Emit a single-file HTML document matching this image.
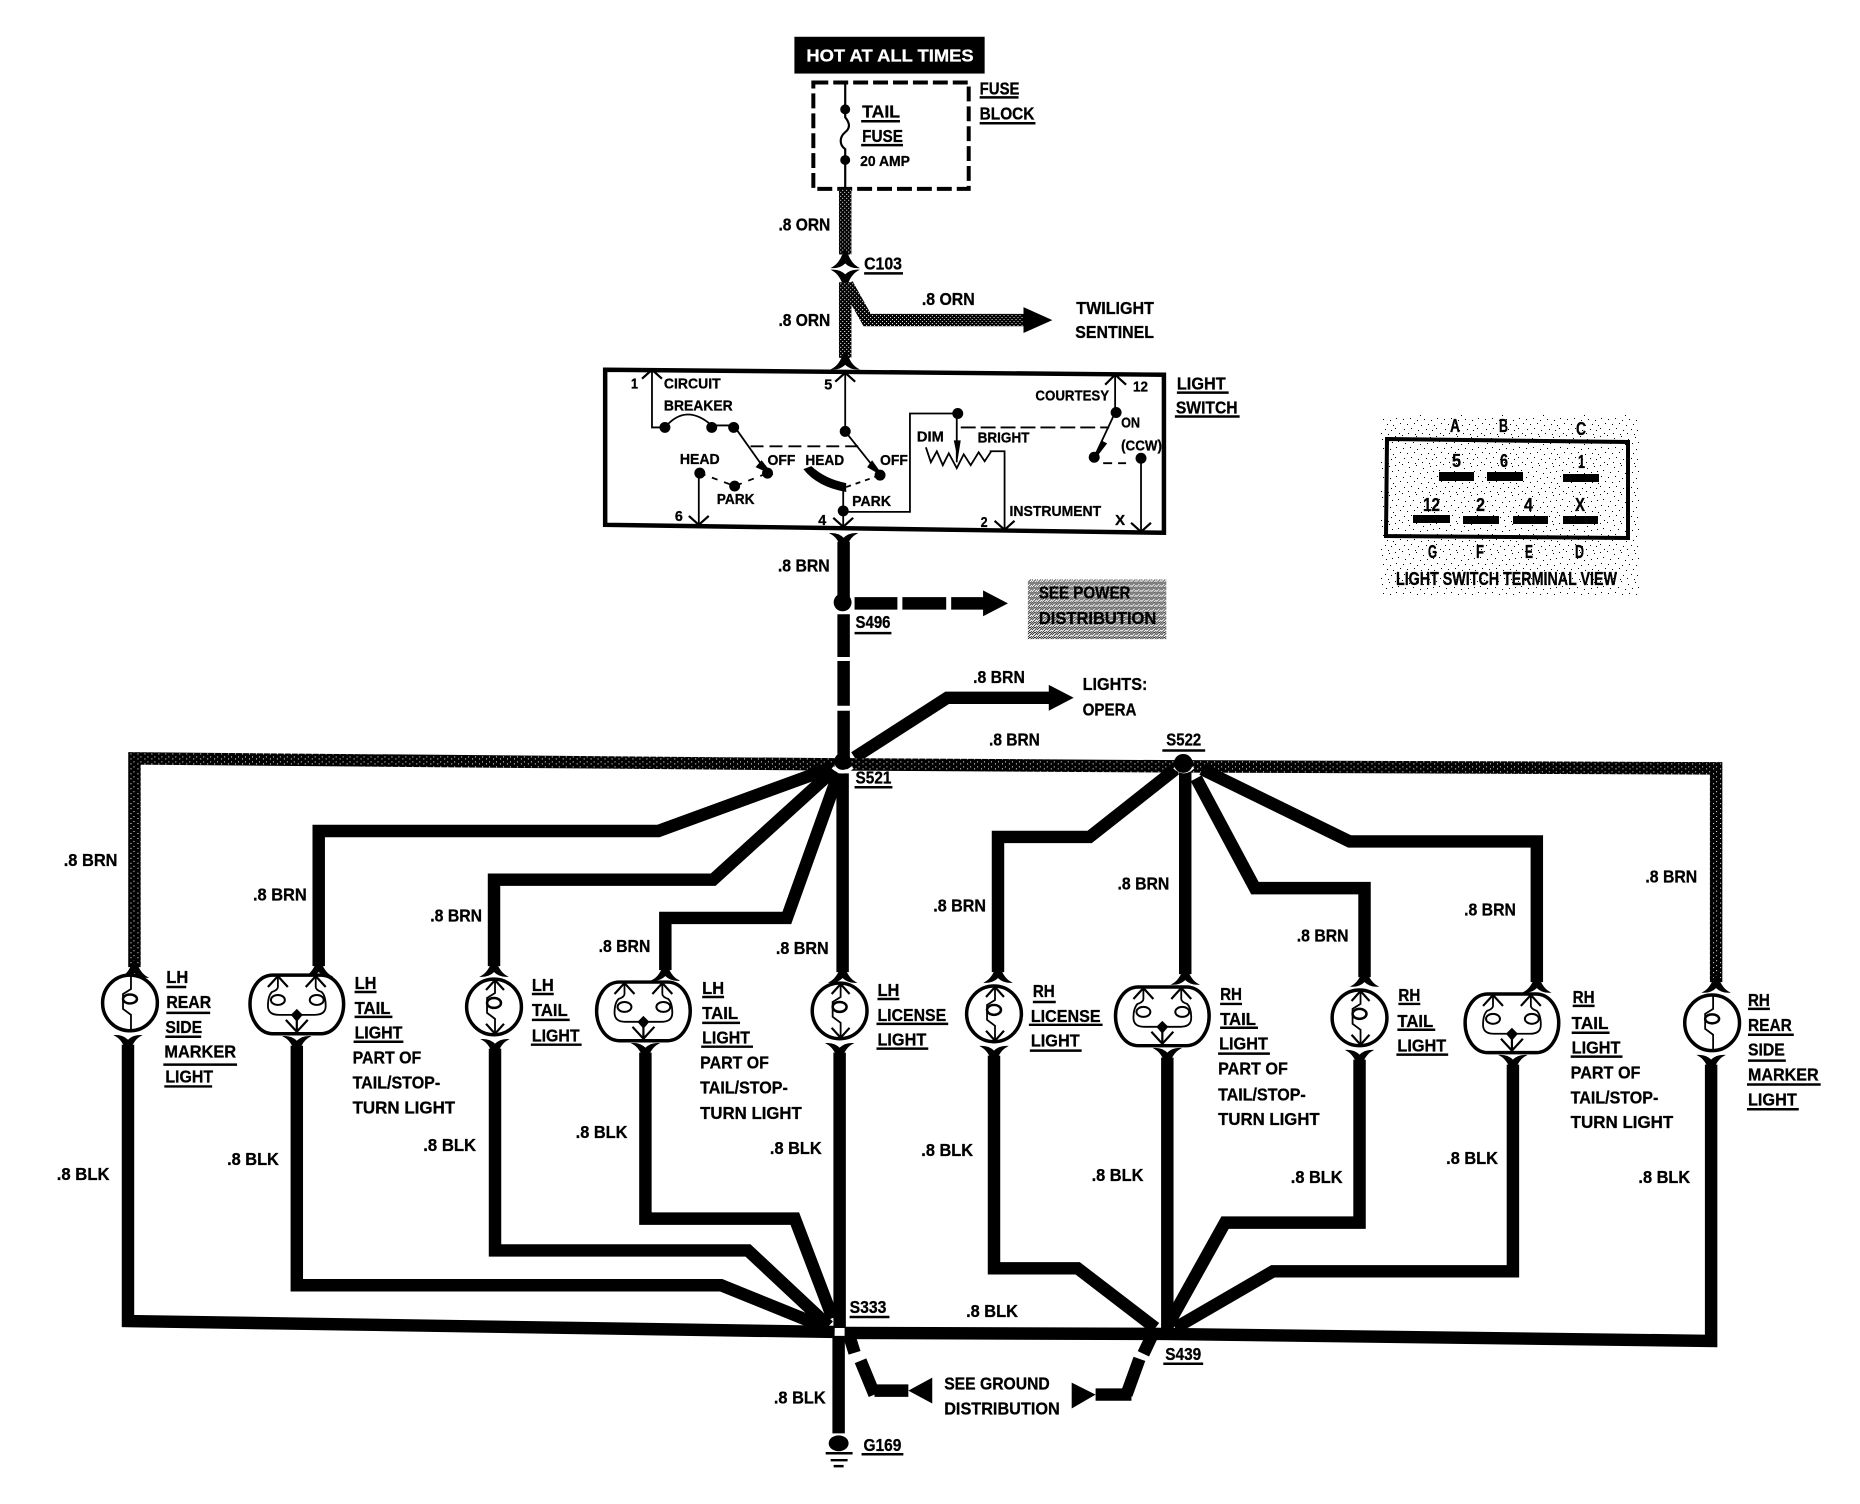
<!DOCTYPE html>
<html><head><meta charset="utf-8"><style>
html,body{margin:0;padding:0;background:#fff}
svg{display:block}
text{font-family:"Liberation Sans Narrow","Liberation Sans",sans-serif;font-weight:bold;font-size:18px;fill:#000;stroke:#000;stroke-width:.3}
.w{fill:none;stroke:#000;stroke-width:12.5;stroke-linejoin:miter}
.p{fill:none;stroke:url(#d1);stroke-width:12.5;stroke-linejoin:miter}
.q{fill:none;stroke:url(#d4);stroke-width:12.5;stroke-linejoin:miter}
.u{fill:none;stroke:#000;stroke-width:2.5}
.f{fill:none;stroke:#000;stroke-width:1.8}
.fb{fill:none;stroke:#000;stroke-width:2.2}
</style></head><body>
<svg xmlns="http://www.w3.org/2000/svg" width="1860" height="1504" viewBox="0 0 1860 1504">
<defs>
<pattern id="d1" width="4" height="4" patternUnits="userSpaceOnUse"><rect width="4" height="4" fill="#000"/><rect x="1" y="1" width="1" height="1" fill="#fff"/><rect x="3" y="3" width="1" height="1" fill="#fff"/></pattern>
<pattern id="d4" width="7" height="5" patternUnits="userSpaceOnUse"><rect width="7" height="5" fill="#000"/><rect x="1" y="1" width="1" height="1" fill="#fff"/><rect x="5" y="3" width="1" height="1" fill="#fff"/></pattern>
<pattern id="d2" width="5" height="5" patternUnits="userSpaceOnUse"><rect width="5" height="5" fill="#fff"/><rect x="0" y="0" width="1" height="1"/><rect x="2" y="0" width="1" height="1"/><rect x="1" y="1" width="1" height="1"/><rect x="3" y="1" width="2" height="1"/><rect x="0" y="2" width="1" height="1"/><rect x="2" y="2" width="1" height="1"/><rect x="4" y="3" width="1" height="1"/><rect x="1" y="3" width="1" height="1"/><rect x="3" y="4" width="1" height="1"/></pattern>
<pattern id="d3" width="41" height="29" patternUnits="userSpaceOnUse"><path d="M1 1h1v1h-1zM8 0h1v1h-1zM15 3h1v1h-1zM22 1h1v1h-1zM29 4h1v1h-1zM36 2h1v1h-1zM4 6h1v1h-1zM11 8h1v1h-1zM19 7h1v1h-1zM26 9h1v1h-1zM33 8h1v1h-1zM39 7h1v1h-1zM2 12h1v1h-1zM9 13h1v1h-1zM16 12h1v1h-1zM23 14h1v1h-1zM30 13h1v1h-1zM37 14h1v1h-1zM6 17h1v1h-1zM13 18h1v1h-1zM20 17h1v1h-1zM27 19h1v1h-1zM34 18h1v1h-1zM40 19h1v1h-1zM1 22h1v1h-1zM10 23h1v1h-1zM17 22h1v1h-1zM24 24h1v1h-1zM32 23h1v1h-1zM38 24h1v1h-1zM5 27h1v1h-1zM14 27h1v1h-1zM21 28h1v1h-1zM28 27h1v1h-1zM35 28h1v1h-1z"/></pattern>
<path id="ct" d="M-12,9 Q-5,5 -1,-7 H1 Q5,5 12,9 Q5,9 0,4 Q-5,9 -12,9Z" fill="#000" stroke="#000" stroke-width="1.5"/>
<path id="cb" d="M-12,-9 Q-5,-5 -1,7 H1 Q5,-5 12,-9 Q5,-9 0,-4 Q-5,-9 -12,-9Z" fill="#000" stroke="#000" stroke-width="1.5"/>
<g id="mk"><ellipse rx="27.5" ry="28" fill="#fff" stroke="#000" stroke-width="3.5"/><path class="f" d="M1,-28 V-14 L-7,-9 V6 L1,12 V28"/><ellipse cx="0" cy="-4" rx="7" ry="4.5" fill="#fff" stroke="#000" stroke-width="2.5"/></g>
<g id="sg"><ellipse rx="27.5" ry="28" fill="#fff" stroke="#000" stroke-width="3.5"/><path class="f" d="M1,-28 V-14 L-7,-9 V6 L1,12 V28"/><path class="fb" d="M-8,-17 L1,-27 L10,-17 M-8,17 L1,27 L10,17"/><ellipse cx="0" cy="-4" rx="7" ry="5" fill="#fff" stroke="#000" stroke-width="2.5"/></g>
<g id="db"><path d="M-24,-29 H24 C38,-29 47,-15 47,0 C47,15 38,30 24,30 H-24 C-38,30 -47,15 -47,0 C-47,-15 -38,-29 -24,-29Z" fill="#fff" stroke="#000" stroke-width="3.5"/><path class="f" d="M-19,-29 V-17 Q-19,-14 -25,-12 Q-29,-8 -29,2 Q-29,11 -18,11 H18 Q29,11 29,2 Q29,-8 25,-12 Q19,-14 19,-17 V-29"/><path class="fb" d="M-29,-17 L-19,-28 L-9,-17 M9,-17 L19,-28 L29,-17 M-11,16 L0,28 L11,16 M0,14 V29"/><ellipse cx="-19" cy="-4" rx="7" ry="5" fill="#fff" stroke="#000" stroke-width="2"/><ellipse cx="20" cy="-4" rx="7" ry="5" fill="#fff" stroke="#000" stroke-width="2"/><path d="M0,5 L6,11 L0,18 L-6,11Z" fill="#000"/></g>
</defs>
<rect width="1860" height="1504" fill="#fff"/>

<!-- terminal view stipple -->
<rect x="1381" y="415" width="258" height="180" fill="url(#d3)"/>
<path d="M1387,439 L1628,442 L1628,538 L1386,536Z" fill="none" stroke="#000" stroke-width="4"/>
<g fill="#000"><rect x="1439" y="472" width="35" height="9"/><rect x="1487" y="472" width="36" height="9"/><rect x="1563" y="474" width="36" height="8"/><rect x="1413" y="515" width="37" height="8"/><rect x="1463" y="516" width="36" height="8"/><rect x="1513" y="516" width="35" height="8"/><rect x="1563" y="516" width="35" height="8"/></g>
<g>
<text x="1450" y="432" textLength="10" lengthAdjust="spacingAndGlyphs">A</text>
<text x="1499" y="432" textLength="9" lengthAdjust="spacingAndGlyphs">B</text>
<text x="1576" y="435" textLength="10" lengthAdjust="spacingAndGlyphs">C</text>
<text x="1452" y="467" textLength="9" lengthAdjust="spacingAndGlyphs">5</text>
<text x="1500" y="467" textLength="8" lengthAdjust="spacingAndGlyphs">6</text>
<text x="1578" y="468" textLength="7" lengthAdjust="spacingAndGlyphs">1</text>
<text x="1423" y="511" textLength="17" lengthAdjust="spacingAndGlyphs">12</text>
<text x="1476" y="511" textLength="9" lengthAdjust="spacingAndGlyphs">2</text>
<text x="1524" y="511" textLength="9" lengthAdjust="spacingAndGlyphs">4</text>
<text x="1575" y="511" textLength="10" lengthAdjust="spacingAndGlyphs">X</text>
<text x="1428" y="558" textLength="9" lengthAdjust="spacingAndGlyphs">G</text>
<text x="1476" y="558" textLength="8" lengthAdjust="spacingAndGlyphs">F</text>
<text x="1525" y="558" textLength="8" lengthAdjust="spacingAndGlyphs">E</text>
<text x="1575" y="558" textLength="9" lengthAdjust="spacingAndGlyphs">D</text>
<text x="1396" y="585" textLength="221" lengthAdjust="spacingAndGlyphs">LIGHT SWITCH TERMINAL VIEW</text>
</g>

<g transform="scale(.996,.994)">
<g transform="translate(-1.4,0)">
<!-- top -->
<rect x="799" y="37" width="191" height="37" fill="#000"/>
<text x="811" y="62" textLength="168" lengthAdjust="spacingAndGlyphs" style="fill:#fff;stroke:#fff">HOT AT ALL TIMES</text>
<rect x="818" y="83" width="156" height="107" fill="none" stroke="#000" stroke-width="4" stroke-dasharray="15 5"/>
<path class="f" d="M850,83 V118 C855,124 855,129 850,133 C844,138 844,146 850,150 V190" style="stroke-width:2.2"/>
<circle cx="850" cy="110" r="5"/><circle cx="850" cy="161" r="5"/>
<text x="867" y="118" textLength="38" lengthAdjust="spacingAndGlyphs">TAIL</text><path class="u" d="M866,122 H905"/>
<text x="867" y="143" textLength="41" lengthAdjust="spacingAndGlyphs">FUSE</text><path class="u" d="M866,146 H908"/>
<text x="865" y="167" textLength="50" lengthAdjust="spacingAndGlyphs" style="font-size:15px">20 AMP</text>
<text x="985" y="95" textLength="40" lengthAdjust="spacingAndGlyphs">FUSE</text><path class="u" d="M985,98 H1024"/>
<text x="985" y="120" textLength="55" lengthAdjust="spacingAndGlyphs">BLOCK</text><path class="u" d="M985,124 H1041"/>

<path class="p" d="M850,190 V256"/>
<use href="#ct" transform="translate(850,260)"/>
<use href="#cb" transform="translate(850,281)"/>
<path class="p" d="M850,284 V360"/>
<path class="p" d="M852,286 L872,322 H1032"/>
<path d="M1029,309 L1058,322 L1029,335Z"/>
<use href="#ct" transform="translate(850,362)"/>
<text x="783" y="232" textLength="52" lengthAdjust="spacingAndGlyphs">.8 ORN</text>
<text x="783" y="328" textLength="52" lengthAdjust="spacingAndGlyphs">.8 ORN</text>
<text x="927" y="307" textLength="53" lengthAdjust="spacingAndGlyphs">.8 ORN</text>
<text x="869" y="271" textLength="38" lengthAdjust="spacingAndGlyphs">C103</text><path class="u" d="M869,275 H908"/>
<text x="1082" y="316" textLength="78" lengthAdjust="spacingAndGlyphs">TWILIGHT</text>
<text x="1081" y="340" textLength="79" lengthAdjust="spacingAndGlyphs">SENTINEL</text>

<!-- light switch -->
<path d="M609,372 L1170,377 L1170,536 L609,528Z" fill="none" stroke="#000" stroke-width="4.5"/>
<g>
<path class="f" d="M656,372 V430 H669 Q690,405 716,428 H738 L772,476"/>
<path class="fb" d="M646,381 L656,372 L666,381"/>
<path d="M766,463 L778,478 L760,470Z"/>
<circle cx="669" cy="430" r="5.5"/><circle cx="716" cy="430" r="5.5"/><circle cx="738" cy="430" r="5.5"/><circle cx="772" cy="476" r="5.5"/>
<path class="f" d="M755,449 H866" stroke-dasharray="13 6"/>
<path class="f" d="M850,375 V434 L885,478"/>
<path class="fb" d="M840,384 L850,375 L860,384"/>
<path d="M877,463 L889,480 L872,470Z"/>
<circle cx="850" cy="434" r="5.5"/><circle cx="885" cy="478" r="5.5"/>
<path class="f" d="M704,476 L739,489 L772,476" stroke-dasharray="6 7"/>
<circle cx="704" cy="476" r="5.5"/><circle cx="739" cy="489" r="5.5"/>
<path class="f" d="M703,476 V528"/><path class="fb" d="M693,519 L703,528 L713,519"/>
<path d="M808,472 L816,469 Q830,482 851,486 L851,495 Q822,490 808,472Z"/>
<path class="f" d="M851,490 L885,478" stroke-dasharray="5 5"/>
<path class="f" d="M848,492 V530"/>
<circle cx="848" cy="514" r="5.5"/><path class="fb" d="M838,521 L848,530 L858,521"/>
<path class="f" d="M848,515 H915 V416 H962 V465"/>
<circle cx="963" cy="416" r="5.5"/>
<path d="M959,443 H966 L963,462Z"/>
<path class="f" d="M931,450 L936,465 L942,454 L948,468 L954,456 L962,471 L969,457 L976,468 L984,455 L990,464 L996,455 V454 H1010 V533"/>
<path class="fb" d="M1000,524 L1010,533 L1020,524"/>
<path class="f" d="M966,430 H1115" stroke-dasharray="15 5"/>
<path class="f" d="M1121,377 V415 L1100,460"/>
<path class="fb" d="M1111,387 L1121,377 L1132,387"/>
<path d="M1107,443 L1113,446 L1100,463Z"/>
<circle cx="1122" cy="415" r="5.5"/><circle cx="1100" cy="460" r="5.5"/>
<path class="f" d="M1109,466 H1132" stroke-dasharray="9 6"/>
<circle cx="1147" cy="461" r="5.5"/>
<path class="f" d="M1147,461 V535"/><path class="fb" d="M1137,526 L1147,535 L1157,526"/>
</g>
<g>
<text x="635" y="391" textLength="7" lengthAdjust="spacingAndGlyphs" style="font-size:15px">1</text>
<text x="668" y="391" textLength="57" lengthAdjust="spacingAndGlyphs" style="font-size:15px">CIRCUIT</text>
<text x="668" y="413" textLength="69" lengthAdjust="spacingAndGlyphs" style="font-size:15px">BREAKER</text>
<text x="684" y="467" textLength="40" lengthAdjust="spacingAndGlyphs" style="font-size:15px">HEAD</text>
<text x="772" y="468" textLength="28" lengthAdjust="spacingAndGlyphs" style="font-size:15px">OFF</text>
<text x="810" y="468" textLength="39" lengthAdjust="spacingAndGlyphs" style="font-size:15px">HEAD</text>
<text x="885" y="468" textLength="28" lengthAdjust="spacingAndGlyphs" style="font-size:15px">OFF</text>
<text x="721" y="507" textLength="38" lengthAdjust="spacingAndGlyphs" style="font-size:15px">PARK</text>
<text x="857" y="509" textLength="39" lengthAdjust="spacingAndGlyphs" style="font-size:15px">PARK</text>
<text x="679" y="524" textLength="8" lengthAdjust="spacingAndGlyphs" style="font-size:15px">6</text>
<text x="823" y="528" textLength="8" lengthAdjust="spacingAndGlyphs" style="font-size:15px">4</text>
<text x="829" y="392" textLength="8" lengthAdjust="spacingAndGlyphs" style="font-size:15px">5</text>
<text x="922" y="444" textLength="27" lengthAdjust="spacingAndGlyphs" style="font-size:15px">DIM</text>
<text x="983" y="445" textLength="52" lengthAdjust="spacingAndGlyphs" style="font-size:15px">BRIGHT</text>
<text x="1041" y="403" textLength="74" lengthAdjust="spacingAndGlyphs" style="font-size:15px">COURTESY</text>
<text x="1139" y="394" textLength="15" lengthAdjust="spacingAndGlyphs" style="font-size:15px">12</text>
<text x="1127" y="430" textLength="19" lengthAdjust="spacingAndGlyphs" style="font-size:15px">ON</text>
<text x="1127" y="453" textLength="41" lengthAdjust="spacingAndGlyphs" style="font-size:15px">(CCW)</text>
<text x="1015" y="519" textLength="92" lengthAdjust="spacingAndGlyphs" style="font-size:15px">INSTRUMENT</text>
<text x="986" y="530" textLength="7" lengthAdjust="spacingAndGlyphs" style="font-size:15px">2</text>
<text x="1121" y="528" textLength="10" lengthAdjust="spacingAndGlyphs" style="font-size:15px">X</text>
</g>
<text x="1183" y="392" textLength="49" lengthAdjust="spacingAndGlyphs">LIGHT</text><path class="u" d="M1183,395 H1235"/>
<text x="1182" y="416" textLength="62" lengthAdjust="spacingAndGlyphs">SWITCH</text><path class="u" d="M1181,419 H1246"/>
</g>

<!-- BRN trunk -->
<use href="#cb" transform="translate(847,546)"/>
<path class="w" d="M847,545 V606"/>
<circle cx="846" cy="606" r="9"/>
<path class="w" d="M847,618 V661 M847,665 V710 M847,715 V765"/>
<path class="w" d="M858,607 H901 M906,607 H950 M955,607 H990"/>
<path d="M987,594 L1012,607 L987,620Z"/>
<rect x="1032" y="583" width="139" height="60" fill="url(#d2)"/>
<text x="1043" y="602" textLength="92" lengthAdjust="spacingAndGlyphs">SEE POWER</text>
<text x="1043" y="628" textLength="118" lengthAdjust="spacingAndGlyphs">DISTRIBUTION</text>
<text x="781" y="575" textLength="52" lengthAdjust="spacingAndGlyphs">.8 BRN</text>
<text x="859" y="632" textLength="35" lengthAdjust="spacingAndGlyphs">S496</text><path class="u" d="M858,637 H895"/>
<path class="w" d="M858,762 L951,702 H1055"/>
<path d="M1053,689 L1078,702 L1053,715Z"/>
<text x="977" y="687" textLength="52" lengthAdjust="spacingAndGlyphs">.8 BRN</text>
<text x="1087" y="694" textLength="65" lengthAdjust="spacingAndGlyphs">LIGHTS:</text>
<text x="1087" y="720" textLength="54" lengthAdjust="spacingAndGlyphs">OPERA</text>
<text x="993" y="750" textLength="51" lengthAdjust="spacingAndGlyphs">.8 BRN</text>
<text x="1171" y="750" textLength="35" lengthAdjust="spacingAndGlyphs">S522</text><path class="u" d="M1167,755 H1210"/>
<text x="859" y="788" textLength="36" lengthAdjust="spacingAndGlyphs">S521</text><path class="u" d="M858,792 H896"/>

<!-- BRN feeders left -->
<path class="q" d="M838,769 L135,763 V973"/>
<path class="q" d="M850,769 L1186,771"/>
<path class="w" d="M836,772 L661,836 H320 V972"/>
<path class="w" d="M838,774 L716,885 H496 V972"/>
<path class="w" d="M842,778 L790,923.5 H668 V976"/>
<path class="w" d="M846,778 V978"/>
<!-- BRN feeders right -->
<path class="q" d="M1196,771 L1723,773 V988"/>
<path class="w" d="M1180,774 L1094,842 H1002 V978"/>
<path class="w" d="M1190,776 V980"/>
<path class="w" d="M1201,783 L1260,893.5 H1370 V983"/>
<path class="w" d="M1207,774 L1355,846.5 H1543 V988"/>
<path d="M836,772 Q846,781 856,772" fill="none" stroke="#fff" stroke-width="3"/>
<path d="M1179,772 Q1189,781 1198,772" fill="none" stroke="#fff" stroke-width="3"/>
<circle cx="846" cy="766" r="8.5"/>
<circle cx="1188" cy="768" r="9.5"/>

<!-- connectors top -->
<use href="#ct" transform="translate(135,974)"/>
<use href="#ct" transform="translate(320,973)"/>
<use href="#ct" transform="translate(496,973)"/>
<use href="#ct" transform="translate(668,977)"/>
<use href="#ct" transform="translate(846,979)"/>
<use href="#ct" transform="translate(1002,979)"/>
<use href="#ct" transform="translate(1190,981)"/>
<use href="#ct" transform="translate(1370,983)"/>
<use href="#ct" transform="translate(1543,989)"/>
<use href="#ct" transform="translate(1723,989)"/>

<!-- lamps -->
<use href="#mk" transform="translate(130.5,1009)"/>
<use href="#db" transform="translate(298,1010)"/>
<use href="#sg" transform="translate(496,1013)"/>
<use href="#db" transform="translate(646,1017)"/>
<use href="#sg" transform="translate(843,1017)"/>
<use href="#sg" transform="translate(998,1020)"/>
<use href="#db" transform="translate(1167,1022)"/>
<use href="#sg" transform="translate(1365,1024)"/>
<use href="#db" transform="translate(1518,1029)"/>
<use href="#mk" transform="translate(1719,1029)"/>

<!-- connectors bottom -->
<use href="#cb" transform="translate(128.5,1051)"/>
<use href="#cb" transform="translate(298,1052)"/>
<use href="#cb" transform="translate(497,1055)"/>
<use href="#cb" transform="translate(648,1059)"/>
<use href="#cb" transform="translate(843,1059)"/>
<use href="#cb" transform="translate(998,1062)"/>
<use href="#cb" transform="translate(1172,1064)"/>
<use href="#cb" transform="translate(1365,1066)"/>
<use href="#cb" transform="translate(1519,1071)"/>
<use href="#cb" transform="translate(1718,1071)"/>

<!-- BLK -->
<path class="w" d="M128.5,1051 V1329 L838,1340"/>
<path class="w" d="M298,1052 V1293 H724 L830,1336"/>
<path class="w" d="M497,1055 V1258 H751 L832,1334"/>
<path class="w" d="M648,1059 V1226 H798 L836,1326"/>
<path class="w" d="M843,1059 V1336"/>
<path class="w" d="M848,1341 L1168,1342 L1718,1349 V1071"/>
<path class="w" d="M998,1062 V1276 H1082 L1160,1336"/>
<path class="w" d="M1172,1064 V1340"/>
<path class="w" d="M1365,1066 V1230 H1230 L1171,1336"/>
<path class="w" d="M1519,1071 V1279 H1278 L1180,1336"/>
<path class="w" d="M842,1344 V1442"/>
<path class="w" d="M853,1345 L858,1361 M864,1369 L878,1403"/>
<path class="w" d="M878,1399 H912"/>
<path d="M912,1399 L936,1386 V1412Z"/>
<path class="w" d="M1156,1345 L1148,1362 M1144,1367 L1131,1403"/>
<path class="w" d="M1136,1403 H1100"/>
<path d="M1100,1403 L1076,1391 V1417Z"/>
<ellipse cx="842" cy="1452" rx="10" ry="8"/>
<path class="u" d="M829,1462 H856"/><path class="u" d="M834,1469 H851"/><path class="u" d="M837,1475 H847"/>
<text x="867" y="1460" textLength="38" lengthAdjust="spacingAndGlyphs">G169</text><path class="u" d="M865,1463 H907"/>
<text x="853" y="1321" textLength="37" lengthAdjust="spacingAndGlyphs">S333</text><path class="u" d="M853,1325 H893"/>
<text x="1170" y="1368" textLength="36" lengthAdjust="spacingAndGlyphs">S439</text><path class="u" d="M1168,1372 H1208"/>
<text x="948" y="1398" textLength="106" lengthAdjust="spacingAndGlyphs">SEE GROUND</text>
<text x="948" y="1423" textLength="116" lengthAdjust="spacingAndGlyphs">DISTRIBUTION</text>

<!-- wire labels -->
<g>
<text x="64" y="871" textLength="54" lengthAdjust="spacingAndGlyphs">.8 BRN</text>
<text x="254" y="906" textLength="54" lengthAdjust="spacingAndGlyphs">.8 BRN</text>
<text x="432" y="927" textLength="52" lengthAdjust="spacingAndGlyphs">.8 BRN</text>
<text x="601" y="958" textLength="52" lengthAdjust="spacingAndGlyphs">.8 BRN</text>
<text x="779" y="960" textLength="53" lengthAdjust="spacingAndGlyphs">.8 BRN</text>
<text x="937" y="917" textLength="53" lengthAdjust="spacingAndGlyphs">.8 BRN</text>
<text x="1122" y="895" textLength="52" lengthAdjust="spacingAndGlyphs">.8 BRN</text>
<text x="1302" y="947" textLength="52" lengthAdjust="spacingAndGlyphs">.8 BRN</text>
<text x="1470" y="921" textLength="52" lengthAdjust="spacingAndGlyphs">.8 BRN</text>
<text x="1652" y="888" textLength="52" lengthAdjust="spacingAndGlyphs">.8 BRN</text>
<text x="57" y="1187" textLength="53" lengthAdjust="spacingAndGlyphs">.8 BLK</text>
<text x="228" y="1172" textLength="52" lengthAdjust="spacingAndGlyphs">.8 BLK</text>
<text x="425" y="1158" textLength="53" lengthAdjust="spacingAndGlyphs">.8 BLK</text>
<text x="578" y="1145" textLength="52" lengthAdjust="spacingAndGlyphs">.8 BLK</text>
<text x="773" y="1161" textLength="52" lengthAdjust="spacingAndGlyphs">.8 BLK</text>
<text x="925" y="1163" textLength="52" lengthAdjust="spacingAndGlyphs">.8 BLK</text>
<text x="1096" y="1188" textLength="52" lengthAdjust="spacingAndGlyphs">.8 BLK</text>
<text x="1296" y="1190" textLength="52" lengthAdjust="spacingAndGlyphs">.8 BLK</text>
<text x="1452" y="1171" textLength="52" lengthAdjust="spacingAndGlyphs">.8 BLK</text>
<text x="1645" y="1190" textLength="52" lengthAdjust="spacingAndGlyphs">.8 BLK</text>
<text x="970" y="1325" textLength="52" lengthAdjust="spacingAndGlyphs">.8 BLK</text>
<text x="777" y="1412" textLength="52" lengthAdjust="spacingAndGlyphs">.8 BLK</text>
</g>

<!-- lamp labels -->
<g>
<text x="167" y="989" textLength="22" lengthAdjust="spacingAndGlyphs">LH</text><path class="u" d="M167,993 H187"/>
<text x="167" y="1014" textLength="45" lengthAdjust="spacingAndGlyphs">REAR</text><path class="u" d="M167,1019 H211"/>
<text x="166" y="1039" textLength="37" lengthAdjust="spacingAndGlyphs">SIDE</text><path class="u" d="M166,1043 H202"/>
<text x="165" y="1064" textLength="72" lengthAdjust="spacingAndGlyphs">MARKER</text><path class="u" d="M164,1071 H238"/>
<text x="166" y="1089" textLength="48" lengthAdjust="spacingAndGlyphs">LIGHT</text><path class="u" d="M165,1093 H213"/>

<text x="356" y="995" textLength="22" lengthAdjust="spacingAndGlyphs">LH</text><path class="u" d="M356,998 H378"/>
<text x="356" y="1020" textLength="36" lengthAdjust="spacingAndGlyphs">TAIL</text><path class="u" d="M356,1023 H394"/>
<text x="356" y="1045" textLength="48" lengthAdjust="spacingAndGlyphs">LIGHT</text><path class="u" d="M355,1048 H405"/>
<text x="354" y="1070" textLength="69" lengthAdjust="spacingAndGlyphs">PART OF</text>
<text x="354" y="1095" textLength="88" lengthAdjust="spacingAndGlyphs">TAIL/STOP-</text>
<text x="354" y="1120" textLength="103" lengthAdjust="spacingAndGlyphs">TURN LIGHT</text>

<text x="534" y="997" textLength="22" lengthAdjust="spacingAndGlyphs">LH</text><path class="u" d="M534,1000 H556"/>
<text x="534" y="1022" textLength="36" lengthAdjust="spacingAndGlyphs">TAIL</text><path class="u" d="M534,1026 H572"/>
<text x="534" y="1048" textLength="48" lengthAdjust="spacingAndGlyphs">LIGHT</text><path class="u" d="M533,1051 H584"/>

<text x="705" y="1000" textLength="22" lengthAdjust="spacingAndGlyphs">LH</text><path class="u" d="M705,1003 H727"/>
<text x="705" y="1025" textLength="36" lengthAdjust="spacingAndGlyphs">TAIL</text><path class="u" d="M705,1029 H743"/>
<text x="705" y="1050" textLength="48" lengthAdjust="spacingAndGlyphs">LIGHT</text><path class="u" d="M704,1053 H756"/>
<text x="703" y="1075" textLength="69" lengthAdjust="spacingAndGlyphs">PART OF</text>
<text x="703" y="1100" textLength="88" lengthAdjust="spacingAndGlyphs">TAIL/STOP-</text>
<text x="703" y="1126" textLength="102" lengthAdjust="spacingAndGlyphs">TURN LIGHT</text>

<text x="881" y="1002" textLength="22" lengthAdjust="spacingAndGlyphs">LH</text><path class="u" d="M881,1005 H903"/>
<text x="881" y="1027" textLength="69" lengthAdjust="spacingAndGlyphs">LICENSE</text><path class="u" d="M880,1030 H952"/>
<text x="881" y="1052" textLength="49" lengthAdjust="spacingAndGlyphs">LIGHT</text><path class="u" d="M880,1055 H932"/>

<text x="1037" y="1003" textLength="22" lengthAdjust="spacingAndGlyphs">RH</text><path class="u" d="M1037,1008 H1060"/>
<text x="1035" y="1028" textLength="70" lengthAdjust="spacingAndGlyphs">LICENSE</text><path class="u" d="M1033,1031 H1107"/>
<text x="1035" y="1053" textLength="49" lengthAdjust="spacingAndGlyphs">LIGHT</text><path class="u" d="M1034,1057 H1086"/>

<text x="1225" y="1006" textLength="22" lengthAdjust="spacingAndGlyphs">RH</text><path class="u" d="M1225,1010 H1247"/>
<text x="1225" y="1031" textLength="36" lengthAdjust="spacingAndGlyphs">TAIL</text><path class="u" d="M1225,1034 H1263"/>
<text x="1224" y="1056" textLength="49" lengthAdjust="spacingAndGlyphs">LIGHT</text><path class="u" d="M1223,1060 H1275"/>
<text x="1223" y="1081" textLength="70" lengthAdjust="spacingAndGlyphs">PART OF</text>
<text x="1223" y="1107" textLength="88" lengthAdjust="spacingAndGlyphs">TAIL/STOP-</text>
<text x="1223" y="1132" textLength="102" lengthAdjust="spacingAndGlyphs">TURN LIGHT</text>

<text x="1404" y="1007" textLength="22" lengthAdjust="spacingAndGlyphs">RH</text><path class="u" d="M1404,1010 H1426"/>
<text x="1403" y="1033" textLength="36" lengthAdjust="spacingAndGlyphs">TAIL</text><path class="u" d="M1403,1036 H1441"/>
<text x="1403" y="1058" textLength="49" lengthAdjust="spacingAndGlyphs">LIGHT</text><path class="u" d="M1402,1061 H1454"/>

<text x="1579" y="1009" textLength="22" lengthAdjust="spacingAndGlyphs">RH</text><path class="u" d="M1579,1012 H1601"/>
<text x="1578" y="1035" textLength="37" lengthAdjust="spacingAndGlyphs">TAIL</text><path class="u" d="M1578,1039 H1616"/>
<text x="1578" y="1060" textLength="49" lengthAdjust="spacingAndGlyphs">LIGHT</text><path class="u" d="M1577,1063 H1629"/>
<text x="1577" y="1085" textLength="70" lengthAdjust="spacingAndGlyphs">PART OF</text>
<text x="1577" y="1110" textLength="88" lengthAdjust="spacingAndGlyphs">TAIL/STOP-</text>
<text x="1577" y="1135" textLength="103" lengthAdjust="spacingAndGlyphs">TURN LIGHT</text>

<text x="1755" y="1012" textLength="22" lengthAdjust="spacingAndGlyphs">RH</text><path class="u" d="M1755,1015 H1777"/>
<text x="1755" y="1037" textLength="44" lengthAdjust="spacingAndGlyphs">REAR</text><path class="u" d="M1755,1041 H1801"/>
<text x="1755" y="1062" textLength="37" lengthAdjust="spacingAndGlyphs">SIDE</text><path class="u" d="M1755,1067 H1793"/>
<text x="1755" y="1087" textLength="71" lengthAdjust="spacingAndGlyphs">MARKER</text><path class="u" d="M1754,1091 H1828"/>
<text x="1755" y="1112" textLength="49" lengthAdjust="spacingAndGlyphs">LIGHT</text><path class="u" d="M1754,1116 H1806"/>
</g>
</g>
</svg>
</body></html>
